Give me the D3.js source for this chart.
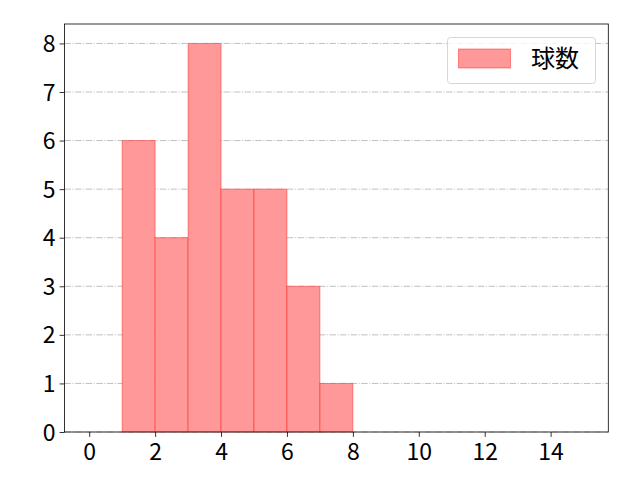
<!DOCTYPE html>
<html>
<head>
<meta charset="utf-8">
<script src="https://cdn.jsdelivr.net/npm/d3@7"></script>
<style>
body{margin:0;background:#fff;}
text{font-family:"Noto Sans CJK JP","DejaVu Sans",sans-serif;}
</style>
</head>
<body>
<svg id="c" width="640" height="480"></svg>
<script>
const binStarts = [0,1,2,3,4,5,6,7,8,9,10,11,12,13,14];
const counts    = [0,6,4,8,5,5,3,1,0,0,0,0,0,0,0];
const xTicks = [0,2,4,6,8,10,12,14];
const yTicks = [0,1,2,3,4,5,6,7,8];
const seriesName = "球数";

const svg = d3.select("#c");
const L = 64.5, R = 608.3, T = 24, B = 432;
const x = d3.scaleLinear().domain([-0.75, 15.75]).range([L, R]);
const y = d3.scaleLinear().domain([0, 8.4]).range([B, T]);
const fs = 23;

// grid
svg.append("g").selectAll("line").data(yTicks).join("line")
  .attr("x1", L).attr("x2", R)
  .attr("y1", d => y(d)).attr("y2", d => y(d))
  .attr("stroke", "#b0b0b0").attr("stroke-width", 0.8)
  .attr("stroke-dasharray", "6.4,1.6,1,1.6");

// bars (zero-height bins included, drawn as thin lines like matplotlib)
svg.append("g").selectAll("rect").data(binStarts.map((s,i)=>({s, c: counts[i]}))).join("rect")
  .attr("x", d => x(d.s)).attr("width", d => x(d.s+1)-x(d.s))
  .attr("y", d => y(d.c)).attr("height", d => y(0)-y(d.c))
  .attr("fill", "#ff9999").attr("stroke", "rgba(255,0,0,0.4)").attr("stroke-width", 1);

// axes
const xa = svg.append("g").attr("transform", `translate(0,${B})`)
  .call(d3.axisBottom(x).tickValues(xTicks).tickSize(4.9).tickPadding(4).tickFormat(d3.format("d")));
const ya = svg.append("g").attr("transform", `translate(${L},0)`)
  .call(d3.axisLeft(y).tickValues(yTicks).tickSize(4.9).tickPadding(4).tickFormat(d3.format("d")));
[xa, ya].forEach(a => {
  a.select(".domain").remove();
  a.selectAll("line").attr("stroke", "#000").attr("stroke-width", 0.8);
  a.selectAll("text").attr("fill", "#000").style("font-size", fs + "px")
    .style("font-family", '"Noto Sans CJK JP","DejaVu Sans",sans-serif');
});
xa.selectAll("text").attr("dy", "0.85em");
ya.selectAll("text").attr("dy", "0.35em");

// frame
svg.append("rect").attr("x", L).attr("y", T).attr("width", R-L).attr("height", B-T)
  .attr("fill", "none").attr("stroke", "#000").attr("stroke-width", 0.8);

// legend
const lg = svg.append("g");
lg.append("rect").attr("x", 447.5).attr("y", 37.5).attr("width", 148).attr("height", 46)
  .attr("rx", 3).attr("fill", "rgba(255,255,255,0.8)").attr("stroke", "#cccccc").attr("stroke-width", 0.8);
lg.append("rect").attr("x", 458.5).attr("y", 49).attr("width", 52).attr("height", 19)
  .attr("fill", "#ff9999").attr("stroke", "rgba(255,0,0,0.4)").attr("stroke-width", 1);
lg.append("text").attr("x", 531).attr("y", 59).attr("dy", "0.35em")
  .style("font-size", "24px").attr("fill", "#000").text(seriesName);
</script>
</body>
</html>
